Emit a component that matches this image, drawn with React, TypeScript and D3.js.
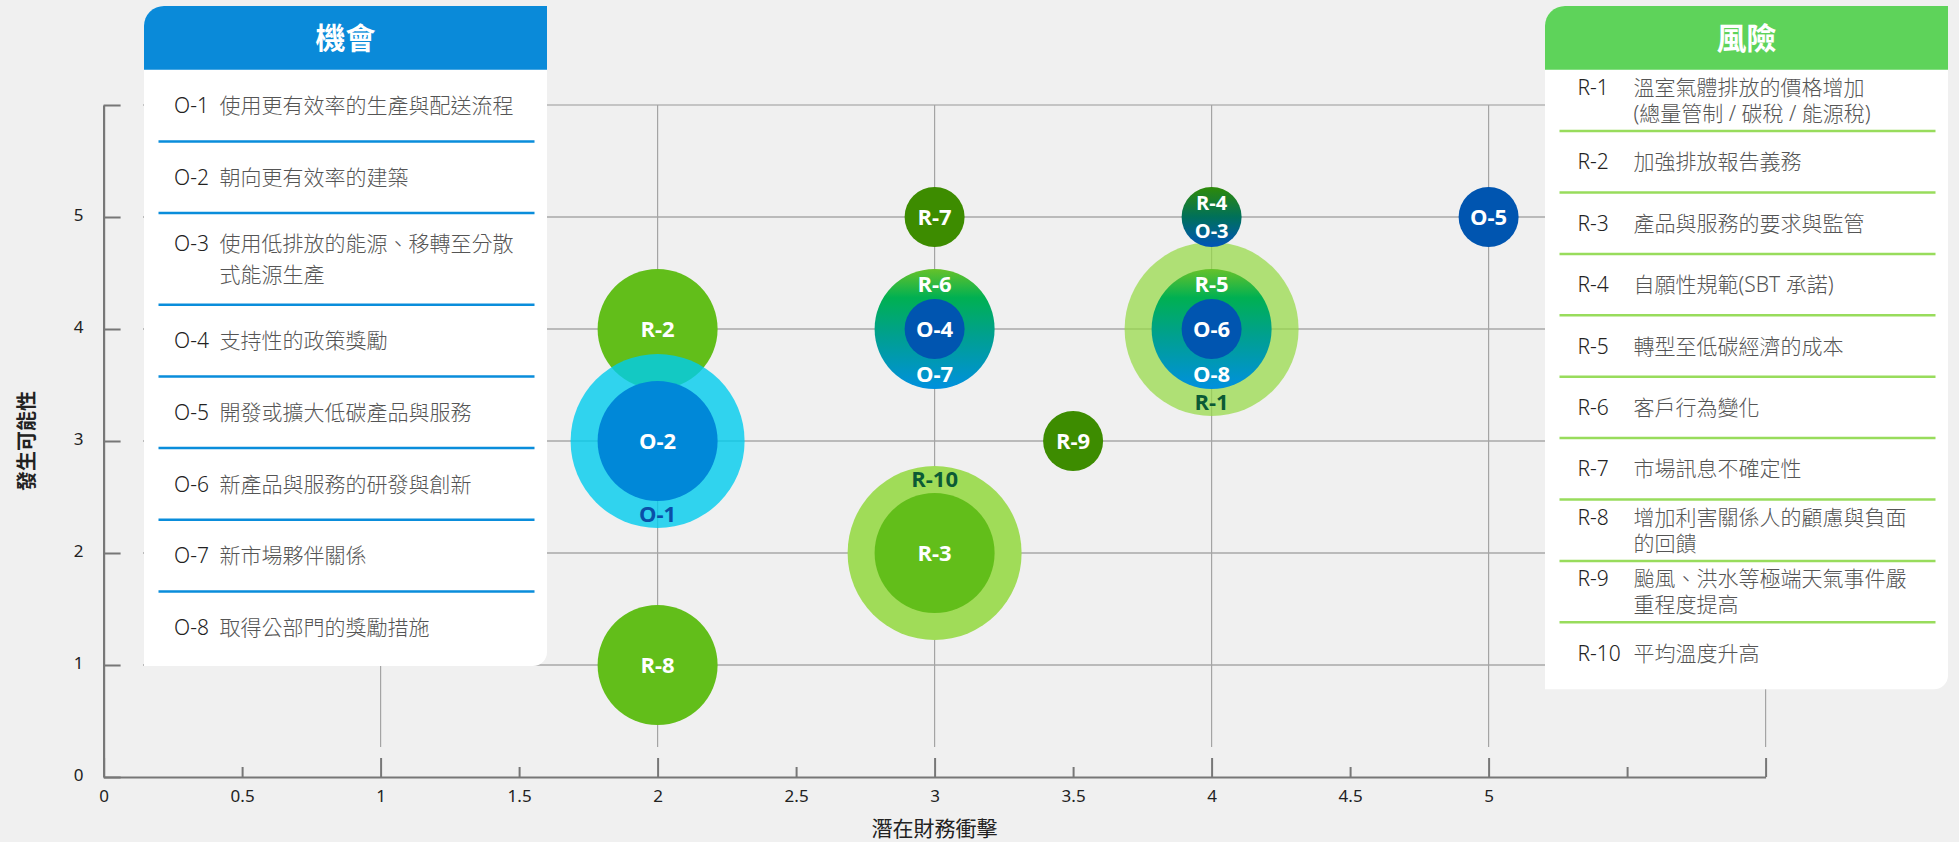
import React, { useEffect, useRef } from 'react';
import * as d3 from 'd3';

const WIDTH = 1959;
const HEIGHT = 842;

// Bubbles, listed bottom to top in drawing order
const markIds = ['R-1', 'R-2', 'O-1', 'O-2', 'R-10', 'R-3', 'R-8', 'R-6/O-7', 'O-4', 'R-5/O-8', 'O-6', 'R-7', 'R-4/O-3', 'R-9', 'O-5'];
const impact = [4, 2, 2, 2, 3, 3, 2, 3, 3, 4, 4, 3, 4, 3.5, 5];
const likelihood = [4, 4, 3, 3, 2, 2, 1, 4, 4, 4, 4, 5, 5, 3, 5];
const sizeLevel = [3, 2, 3, 2, 3, 2, 2, 2, 1, 2, 1, 1, 1, 1, 1];
const topLabel = ['', '', '', '', 'R-10', '', '', 'R-6', '', 'R-5', '', '', 'R-4', '', ''];
const centerLabel = ['', 'R-2', '', 'O-2', '', 'R-3', 'R-8', '', 'O-4', '', 'O-6', 'R-7', '', 'R-9', 'O-5'];
const bottomLabel = ['R-1', '', 'O-1', '', '', '', '', 'O-7', '', 'O-8', '', '', 'O-3', '', ''];

// Axis ticks
const xTicks = [0, 0.5, 1, 1.5, 2, 2.5, 3, 3.5, 4, 4.5, 5, 5.5, 6];
const xTickLabels = ['0', '0.5', '1', '1.5', '2', '2.5', '3', '3.5', '4', '4.5', '5', '', ''];
const yTicks = [0, 1, 2, 3, 4, 5, 6];
const yTickLabels = ['0', '1', '2', '3', '4', '5', ''];
const xTitle = '潛在財務衝擊';
const yTitle = '發生可能性';

// Side lists
const oppTitle = '機會';
const oppCodes = ['O-1', 'O-2', 'O-3', 'O-4', 'O-5', 'O-6', 'O-7', 'O-8'];
const oppTexts = [
  ['使用更有效率的生產與配送流程'],
  ['朝向更有效率的建築'],
  ['使用低排放的能源、移轉至分散', '式能源生產'],
  ['支持性的政策獎勵'],
  ['開發或擴大低碳產品與服務'],
  ['新產品與服務的研發與創新'],
  ['新市場夥伴關係'],
  ['取得公部門的獎勵措施'],
];
const riskTitle = '風險';
const riskCodes = ['R-1', 'R-2', 'R-3', 'R-4', 'R-5', 'R-6', 'R-7', 'R-8', 'R-9', 'R-10'];
const riskTexts = [
  ['溫室氣體排放的價格增加', '(總量管制 / 碳稅 / 能源稅)'],
  ['加強排放報告義務'],
  ['產品與服務的要求與監管'],
  ['自願性規範(SBT 承諾)'],
  ['轉型至低碳經濟的成本'],
  ['客戶行為變化'],
  ['市場訊息不確定性'],
  ['增加利害關係人的顧慮與負面', '的回饋'],
  ['颱風、洪水等極端天氣事件嚴', '重程度提高'],
  ['平均溫度升高'],
];

// styling
const FILL: Record<string, string> = {
  'R-1': '#95d945',
  'R-2': '#62be1a',
  'O-1': '#00ccee',
  'O-2': '#0088d8',
  'R-10': '#a0dc58',
  'R-3': '#62be1a',
  'R-8': '#62be1a',
  'R-6/O-7': 'url(#gradGreenBlue)',
  'O-4': '#0055b0',
  'R-5/O-8': 'url(#gradGreenBlue)',
  'O-6': '#0055b0',
  'R-7': '#3d8c00',
  'R-4/O-3': 'url(#gradDark)',
  'R-9': '#3d8c00',
  'O-5': '#0055b0',
};
const OPACITY: Record<string, number> = { 'R-1': 0.72, 'O-1': 0.8 };
const LABEL_COLOR: Record<string, string> = { 'R-1': '#0b5a35', 'R-10': '#0b5a35', 'O-1': '#0a4fa8' };

const SANS = "'Noto Sans', 'Noto Sans CJK TC', sans-serif";
const BOLD = "'Open Sans', 'Noto Sans', sans-serif";

const panelPath = (x0: number, y0: number, x1: number, y1: number, rTL: number, rBR: number) =>
  `M${x0},${y0 + rTL}A${rTL},${rTL} 0 0 1 ${x0 + rTL},${y0}H${x1}V${y1 - rBR}A${rBR},${rBR} 0 0 1 ${x1 - rBR},${y1}H${x0}Z`;

const headerPath = (x0: number, y0: number, x1: number, y1: number, rTL: number) =>
  `M${x0},${y0 + rTL}A${rTL},${rTL} 0 0 1 ${x0 + rTL},${y0}H${x1}V${y1}H${x0}Z`;

const App: React.FC = () => {
  const svgRef = useRef<SVGSVGElement>(null);

  useEffect(() => {
    if (!svgRef.current) return;
    const svg = d3.select(svgRef.current);
    svg.selectAll('*').remove();

    const x = d3.scaleLinear().domain([0, 6]).range([103.6, 1765.6]);
    const y = d3.scaleLinear().domain([0, 6]).range([777, 105]);
    const r = d3.scaleLinear().domain([1, 2, 3]).range([30, 60, 87]);

    svg.append('rect').attr('width', WIDTH).attr('height', HEIGHT).attr('fill', '#f0f0f0');

    const defs = svg.append('defs');
    const g1 = defs.append('linearGradient').attr('id', 'gradGreenBlue')
      .attr('x1', 0).attr('y1', 0).attr('x2', 0).attr('y2', 1);
    [['0%', '#66c22a'], ['24%', '#00b052'], ['55%', '#00a08e'], ['100%', '#0090de']].forEach(([o, c]) =>
      g1.append('stop').attr('offset', o).attr('stop-color', c));
    const g2 = defs.append('linearGradient').attr('id', 'gradDark')
      .attr('x1', 0).attr('y1', 0).attr('x2', 0).attr('y2', 1);
    [['0%', '#2e8a08'], ['50%', '#00705a'], ['100%', '#0054b8']].forEach(([o, c]) =>
      g2.append('stop').attr('offset', o).attr('stop-color', c));

    // grid
    const grid = svg.append('g');
    grid.selectAll('line.h')
      .data([1, 2, 3, 4, 5, 6])
      .enter().append('line')
      .attr('x1', 143).attr('x2', x(6))
      .attr('y1', d => y(d)).attr('y2', d => y(d))
      .attr('stroke', d => (d === 6 ? '#c4c4c4' : '#a8a8a8'))
      .attr('stroke-width', d => (d === 6 ? 2 : 1.3));
    grid.selectAll('line.v')
      .data([1, 2, 3, 4, 5, 6])
      .enter().append('line')
      .attr('x1', d => x(d)).attr('x2', d => x(d))
      .attr('y1', y(6)).attr('y2', 747)
      .attr('stroke', '#a4a4a4')
      .attr('stroke-width', 1.2);

    // axes
    const xAxis = svg.append('g')
      .attr('transform', `translate(0,${y(0)})`)
      .call(d3.axisBottom(x).tickValues(xTicks).tickSize(-10).tickSizeOuter(0).tickPadding(13)
        .tickFormat((_, i) => xTickLabels[i]));
    xAxis.selectAll('line')
      .attr('y2', (d: any) => (Number.isInteger(d) ? -19 : -10));
    const yAxis = svg.append('g')
      .attr('transform', `translate(${x(0)},0)`)
      .call(d3.axisLeft(y).tickValues(yTicks).tickSize(-17).tickSizeOuter(0).tickPadding(20)
        .tickFormat((_, i) => yTickLabels[i]));
    [xAxis, yAxis].forEach(a => {
      a.select('.domain').attr('stroke', '#777').attr('stroke-width', 2.2);
      a.selectAll('line').attr('stroke', '#777').attr('stroke-width', 2);
      a.selectAll('text')
        .attr('fill', '#222')
        .style('font-family', SANS)
        .style('font-size', '17px');
    });
    yAxis.selectAll('text').attr('dy', '0.2em');

    svg.append('text')
      .attr('x', x(3)).attr('y', 836)
      .attr('text-anchor', 'middle')
      .attr('fill', '#222')
      .style('font-family', SANS)
      .style('font-size', '21px')
      .text(xTitle);
    svg.append('text')
      .attr('transform', `translate(34,${y(3)}) rotate(-90)`)
      .attr('text-anchor', 'middle')
      .attr('fill', '#222')
      .style('font-family', SANS)
      .style('font-size', '20px')
      .style('font-weight', 700)
      .text(yTitle);

    // bubbles
    const idx = d3.range(markIds.length);
    const bubbles = svg.append('g').selectAll('g')
      .data(idx)
      .enter().append('g')
      .attr('transform', i => `translate(${x(impact[i])},${y(likelihood[i])})`);

    bubbles.append('circle')
      .attr('r', i => r(sizeLevel[i]))
      .attr('fill', i => FILL[markIds[i]])
      .attr('fill-opacity', i => OPACITY[markIds[i]] ?? 1);

    // stacked labels sit in the ring band; a small bubble splits its two labels
    const offset = (i: number) => {
      const s = sizeLevel[i];
      return s > 1 ? (r(s) + r(s - 1)) / 2 : r(s) * 0.47;
    };
    const stacked = (i: number) => sizeLevel[i] === 1 && topLabel[i] !== '' && bottomLabel[i] !== '';
    const labelStyle = (sel: any) => sel
      .attr('text-anchor', 'middle')
      .attr('fill', (i: number) => LABEL_COLOR[markIds[i]] ?? '#fff')
      .style('font-family', BOLD)
      .style('font-weight', 700)
      .style('font-size', (i: number) => (stacked(i) ? '20px' : '22px'));

    bubbles.filter(i => topLabel[i] !== '' && !stacked(i)).append('text')
      .attr('y', i => -offset(i))
      .attr('dy', '0.36em')
      .call(labelStyle)
      .text(i => topLabel[i]);
    bubbles.filter(i => centerLabel[i] !== '').append('text')
      .attr('y', 0)
      .attr('dy', '0.36em')
      .call(labelStyle)
      .text(i => centerLabel[i]);
    bubbles.filter(i => bottomLabel[i] !== '' && !stacked(i)).append('text')
      .attr('y', i => offset(i))
      .attr('dy', '0.36em')
      .call(labelStyle)
      .text(i => bottomLabel[i]);

    // two codes sharing one small bubble
    bubbles.filter(i => stacked(i)).append('text')
      .attr('y', i => -offset(i))
      .attr('dy', '0.36em')
      .call(labelStyle)
      .text(i => topLabel[i]);
    bubbles.filter(i => stacked(i)).append('text')
      .attr('y', i => offset(i))
      .attr('dy', '0.36em')
      .call(labelStyle)
      .text(i => bottomLabel[i]);

    // panels
    const drawPanel = (
      x0: number, x1: number, y1: number, headColor: string, lineColor: string,
      title: string, codes: string[], texts: string[][], codeX: number, textX: number,
      rowStep: number, extraLine: number, lineGap: number,
    ) => {
      const top = 6;
      const headBottom = 69.7;
      const p = svg.append('g');
      p.append('path').attr('d', panelPath(x0, top, x1, y1, 20, 14)).attr('fill', '#fff');
      p.append('path').attr('d', headerPath(x0, top, x1, headBottom, 20)).attr('fill', headColor);
      p.append('text')
        .attr('x', (x0 + x1) / 2).attr('y', 38).attr('dy', '0.36em')
        .attr('text-anchor', 'middle')
        .attr('fill', '#fff')
        .style('font-family', SANS)
        .style('font-size', '30px')
        .style('font-weight', 700)
        .text(title);
      let rowTop = headBottom;
      codes.forEach((code, i) => {
        const lines = texts[i];
        const h = i === codes.length - 1 ? y1 - rowTop : rowStep + extraLine * (lines.length - 1);
        const mid = i === codes.length - 1 ? rowTop + rowStep / 2 : rowTop + h / 2;
        const first = mid - ((lines.length - 1) * lineGap) / 2;
        p.append('text')
          .attr('x', codeX).attr('y', first).attr('dy', '0.36em')
          .attr('fill', '#222')
          .style('font-family', SANS)
          .style('font-size', '21px')
          .style('font-weight', 300)
          .text(code);
        lines.forEach((ln, k) => {
          p.append('text')
            .attr('x', textX).attr('y', first + k * lineGap).attr('dy', '0.36em')
            .attr('fill', '#555')
            .style('font-family', SANS)
            .style('font-size', '21px')
            .style('font-weight', 300)
            .text(ln);
        });
        if (i < codes.length - 1) {
          p.append('line')
            .attr('x1', x0 + 14.5).attr('x2', x1 - 12.5)
            .attr('y1', rowTop + h).attr('y2', rowTop + h)
            .attr('stroke', lineColor)
            .attr('stroke-width', 2.5);
        }
        rowTop += h;
      });
    };

    drawPanel(144, 547, 666, '#0a8ad9', '#0a8ddb', oppTitle, oppCodes, oppTexts, 174, 219.6, 71.7, 19.9, 31.7);
    drawPanel(1545, 1948, 689.3, '#5ed35a', '#98dc5c', riskTitle, riskCodes, riskTexts, 1577.5, 1633.5, 61.4, 0, 26);
  }, []);

  return (
    <div style={{ position: 'absolute', left: 0, top: 0 }}>
      <svg ref={svgRef} width={WIDTH} height={HEIGHT} style={{ display: 'block' }}></svg>
    </div>
  );
};

export default App;
